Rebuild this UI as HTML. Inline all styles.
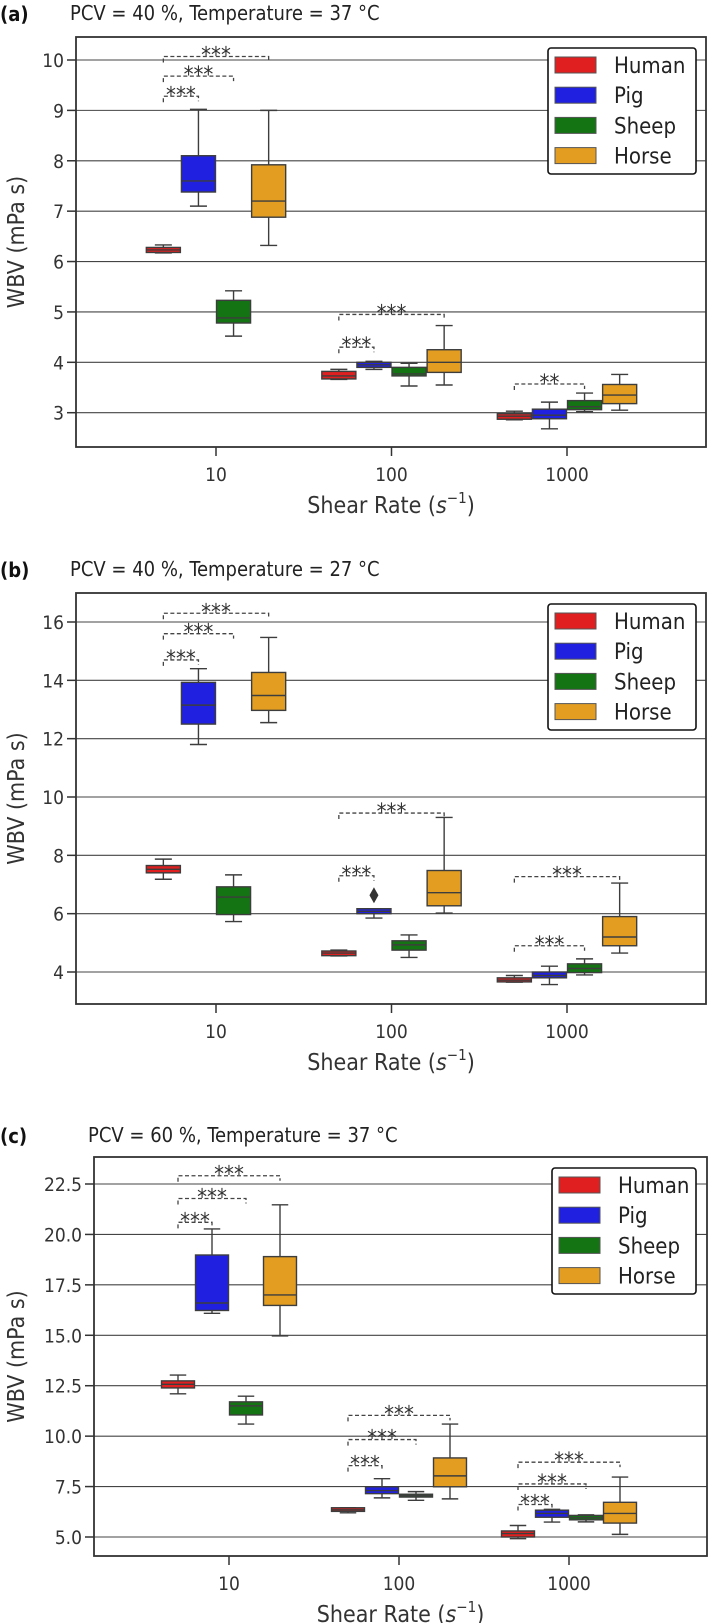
<!DOCTYPE html>
<html><head><meta charset="utf-8">
<style>
html,body{margin:0;padding:0;background:#fff;}
svg{display:block;font-family:"DejaVu Sans Condensed","DejaVu Sans","Liberation Sans",sans-serif;}
</style></head>
<body>
<svg id="fig" width="709" height="1623" viewBox="0 0 709 1623" xmlns="http://www.w3.org/2000/svg"></svg>
<script>
const species = ["Human","Pig","Sheep","Horse"];
const speciesColors = ["#e02020","#2020e0","#147414","#e39e22"];
const shearRates = [10,100,1000];
const xTickLabels = ["10","100","1000"];

const aLow  = [6.17,7.10,4.52,6.32, 3.66,3.86,3.53,3.55, 2.86,2.68,3.02,3.05];
const aQ1   = [6.18,7.38,4.78,6.88, 3.67,3.90,3.73,3.80, 2.87,2.88,3.06,3.18];
const aMed  = [6.23,7.60,4.88,7.20, 3.73,3.95,3.77,4.00, 2.93,2.95,3.12,3.35];
const aQ3   = [6.28,8.10,5.23,7.92, 3.82,4.00,3.90,4.25, 2.98,3.07,3.24,3.56];
const aHigh = [6.33,9.02,5.42,9.00, 3.86,4.02,3.98,4.73, 3.03,3.21,3.39,3.76];
const aTicks = [3,4,5,6,7,8,9,10];
const aTickLabels = ["3","4","5","6","7","8","9","10"];
const aSig = [[0,0,1,9.28,"***"],[0,0,2,9.68,"***"],[0,0,3,10.07,"***"],[1,0,1,4.30,"***"],[1,0,3,4.95,"***"],[2,0,2,3.57,"**"]];

const bLow  = [7.18,11.80,5.73,12.55, 4.55,5.85,4.50,6.02, 3.65,3.57,3.90,4.65];
const bQ1   = [7.40,12.50,5.97,12.97, 4.56,6.00,4.75,6.27, 3.66,3.80,3.98,4.90];
const bMed  = [7.52,13.15,6.57,13.48, 4.65,6.08,4.93,6.72, 3.72,3.88,4.12,5.20];
const bQ3   = [7.65,13.93,6.92,14.27, 4.72,6.17,5.07,7.48, 3.80,4.00,4.28,5.90];
const bHigh = [7.87,14.40,7.33,15.47, 4.75,6.17,5.27,9.30, 3.88,4.20,4.45,7.05];
const bOutliers = [[1,1,6.63]];
const bTicks = [4,6,8,10,12,14,16];
const bTickLabels = ["4","6","8","10","12","14","16"];
const bSig = [[0,0,1,14.7,"***"],[0,0,2,15.6,"***"],[0,0,3,16.3,"***"],[1,0,1,7.3,"***"],[1,0,3,9.45,"***"],[2,0,2,4.9,"***"],[2,0,3,7.27,"***"]];

const cLow  = [12.10,16.09,10.60,14.97, 6.20,6.94,6.82,6.89, 4.92,5.74,5.75,5.13];
const cQ1   = [12.39,16.23,11.05,16.48, 6.27,7.15,6.98,7.49, 5.00,5.98,5.85,5.69];
const cMed  = [12.57,16.60,11.50,17.00, 6.35,7.30,7.05,8.03, 5.17,6.17,5.95,6.17];
const cQ3   = [12.74,18.98,11.70,18.90, 6.45,7.49,7.12,8.92, 5.30,6.33,6.07,6.72];
const cHigh = [13.03,20.27,11.98,21.47, 6.45,7.89,7.25,10.60, 5.57,6.37,6.10,7.97];
const cTicks = [5,7.5,10,12.5,15,17.5,20,22.5];
const cTickLabels = ["5.0","7.5","10.0","12.5","15.0","17.5","20.0","22.5"];
const cSig = [[0,0,1,20.6,"***"],[0,0,2,21.78,"***"],[0,0,3,22.91,"***"],[1,0,1,8.54,"***"],[1,0,2,9.83,"***"],[1,0,3,11.03,"***"],[2,0,1,6.61,"***"],[2,0,2,7.63,"***"],[2,0,3,8.71,"***"]];

const NS="http://www.w3.org/2000/svg";
const svg=document.getElementById('fig');
function mk(tag,attrs,parent){const e=document.createElementNS(NS,tag);for(const k in attrs)e.setAttribute(k,attrs[k]);(parent||svg).appendChild(e);return e;}

const panels=[
 {id:"a",label:"(a)",title:"PCV = 40 %, Temperature = 37 °C",titleX:70,titleY:21,left:76,right:706,top:37,bottom:447,
  t10:216,dec:175.5,v1:10,p1:60,v2:3,p2:412.7,ticks:aTicks,tl:aTickLabels,low:aLow,q1:aQ1,med:aMed,q3:aQ3,high:aHigh,sig:aSig,out:[],legX:548},
 {id:"b",label:"(b)",title:"PCV = 40 %, Temperature = 27 °C",titleX:70,titleY:577,left:76,right:706,top:593,bottom:1004,
  t10:216,dec:175.5,v1:16,p1:622,v2:4,p2:972,ticks:bTicks,tl:bTickLabels,low:bLow,q1:bQ1,med:bMed,q3:bQ3,high:bHigh,sig:bSig,out:bOutliers,legX:548},
 {id:"c",label:"(c)",title:"PCV = 60 %, Temperature = 37 °C",titleX:88,titleY:1143,left:94,right:707,top:1157,bottom:1556,
  t10:229,dec:170,v1:22.5,p1:1184,v2:5,p2:1537,ticks:cTicks,tl:cTickLabels,low:cLow,q1:cQ1,med:cMed,q3:cQ3,high:cHigh,sig:cSig,out:[],legX:552}
];
const offsets=[-0.3,-0.1,0.1,0.3];
const boxW=0.194;

panels.forEach(P=>{
  const g=mk('g',{});
  
  
  const y=v=>P.p1+(v-P.v1)*(P.p2-P.p1)/(P.v2-P.v1);
  const x=lv=>P.t10+(lv-1)*P.dec;
  const cx=(si,sp)=>x(Math.log10(shearRates[si])+offsets[sp]);
  const bw=boxW*P.dec;

  let t=mk('text',{x:0,y:P.titleY,'font-size':20,'font-weight':'bold',fill:'#111'},g);t.textContent=P.label;
  
  t=mk('text',{x:P.titleX,y:P.titleY-1,'font-size':20,fill:'#222'},g);t.textContent=P.title;
  

  P.ticks.forEach((v,i)=>{
    const yy=y(v);
    const gl=mk('line',{x1:P.left,x2:P.right,y1:yy,y2:yy,stroke:'#444','stroke-width':1.1},g);
    
    mk('line',{x1:P.left-9,x2:P.left,y1:yy,y2:yy,stroke:'#333','stroke-width':1.5},g);
    const tx=mk('text',{x:P.left-12,y:yy+7,'font-size':19,fill:'#333','text-anchor':'end'},g);
    tx.textContent=P.tl[i];
    
  });
  shearRates.forEach((s,i)=>{
    const xx=x(Math.log10(s));
    mk('line',{x1:xx,x2:xx,y1:P.bottom,y2:P.bottom+9,stroke:'#333','stroke-width':1.5},g);
    const tx=mk('text',{x:xx,y:P.bottom+34,'font-size':19,fill:'#333','text-anchor':'middle'},g);
    tx.textContent=xTickLabels[i];
    
  });
  const midX=(P.left+P.right)/2, midY=(P.top+P.bottom)/2;
  t=mk('text',{x:midX,y:P.bottom+66,'font-size':23,fill:'#333','text-anchor':'middle'},g);
  t.innerHTML='Shear Rate (<tspan font-style="italic">s</tspan><tspan font-size="15" dy="-10">−1</tspan><tspan dy="10">)</tspan>';
  
  t=mk('text',{x:0,y:0,'font-size':23,fill:'#333','text-anchor':'middle',transform:`translate(24,${midY}) rotate(-90)`},g);
  t.textContent='WBV (mPa s)';
  

  for(let si=0;si<3;si++)for(let sp=0;sp<4;sp++){
    const k=si*4+sp, c=cx(si,sp);
    const bg=mk('g',{},g);
    
    
    const st={stroke:'#3d3d3d','stroke-width':1.4};
    mk('line',Object.assign({x1:c,x2:c,y1:y(P.high[k]),y2:y(P.q3[k])},st),bg);
    mk('line',Object.assign({x1:c,x2:c,y1:y(P.q1[k]),y2:y(P.low[k])},st),bg);
    mk('line',Object.assign({x1:c-bw/4,x2:c+bw/4,y1:y(P.high[k]),y2:y(P.high[k])},st),bg);
    mk('line',Object.assign({x1:c-bw/4,x2:c+bw/4,y1:y(P.low[k]),y2:y(P.low[k])},st),bg);
    mk('rect',Object.assign({x:c-bw/2,y:y(P.q3[k]),width:bw,height:Math.max(1,y(P.q1[k])-y(P.q3[k])),fill:speciesColors[sp]},st),bg);
    mk('line',Object.assign({x1:c-bw/2,x2:c+bw/2,y1:y(P.med[k]),y2:y(P.med[k])},st),bg);
  }
  P.out.forEach(o=>{
    const c=cx(o[0],o[1]), yy=y(o[2]);
    const d=mk('path',{d:`M${c} ${yy-8} L${c+4.5} ${yy} L${c} ${yy+8} L${c-4.5} ${yy} Z`,fill:'#333'},g);
    
  });
  P.sig.forEach(s=>{
    const x1=cx(s[0],s[1]), x2=cx(s[0],s[2]), yy=y(s[3]);
    const bg=mk('g',{},g);
    
    
    mk('path',{d:`M${x1} ${yy+6} L${x1} ${yy} L${x2} ${yy} L${x2} ${yy+5}`,fill:'none',stroke:'#444','stroke-width':1.3,'stroke-dasharray':'4,2.5'},bg);
    const tx=mk('text',{x:(x1+x2)/2,y:yy+6,'font-size':22,fill:'#333','text-anchor':'middle'},bg);
    tx.textContent=s[4];
  });
  const sp=mk('rect',{x:P.left,y:P.top,width:P.right-P.left,height:P.bottom-P.top,fill:'none',stroke:'#333','stroke-width':1.8},g);
  
  const lg=mk('g',{},g);
  
  const lt=P.top+11;
  mk('rect',{x:P.legX,y:lt,width:696-P.legX,height:126,rx:3,fill:'#fff',stroke:'#111','stroke-width':1.6},lg);
  species.forEach((n,i)=>{
    const ey=lt+17+i*30.2;
    const e=mk('g',{},lg);
    
    
    mk('rect',{x:P.legX+7,y:ey-8,width:41,height:16,fill:speciesColors[i],stroke:'#555','stroke-width':1},e);
    const tx=mk('text',{x:P.legX+66,y:ey+8,'font-size':22,fill:'#222'},e);
    tx.textContent=n;
  });
});
</script>
</body></html>
